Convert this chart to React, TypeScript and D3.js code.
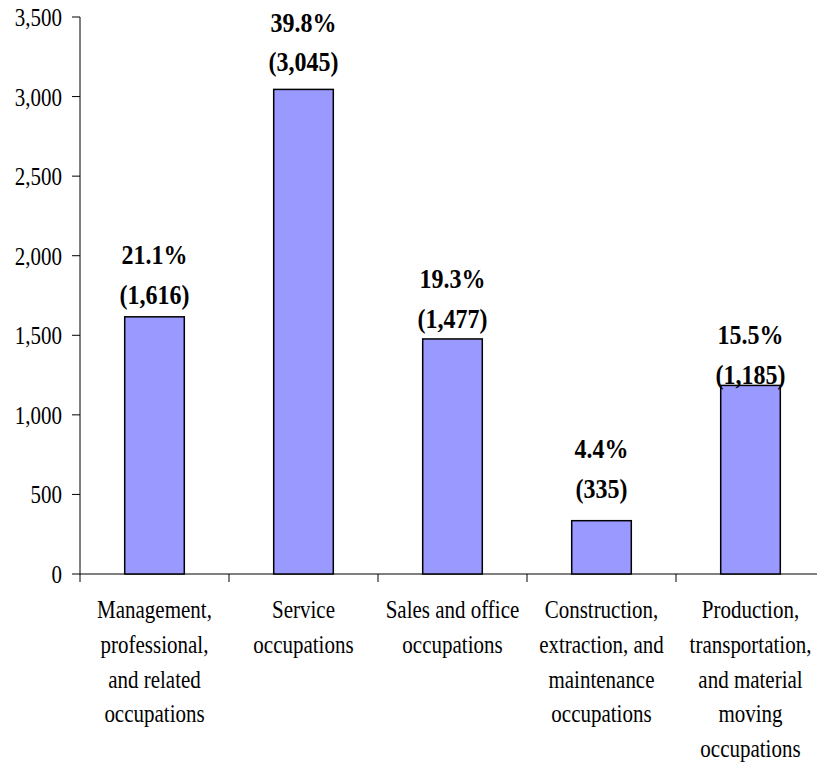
import React, { useEffect, useRef } from "react";
import * as d3 from "d3";

const categories: string[][] = [
  ["Management,", "professional,", "and related", "occupations"],
  ["Service", "occupations"],
  ["Sales and office", "occupations"],
  ["Construction,", "extraction, and", "maintenance", "occupations"],
  ["Production,", "transportation,", "and material", "moving", "occupations"],
];
const counts: number[] = [1616, 3045, 1477, 335, 1185];
const percents: string[] = ["21.1%", "39.8%", "19.3%", "4.4%", "15.5%"];
const yTicks: number[] = [0, 500, 1000, 1500, 2000, 2500, 3000, 3500];

// layout (not data)
const W = 817;
const H = 766;
const left = 80;
const right = 825;
const top = 17;
const bottom = 574;
const labelGap = [13, 18, 11, 23, 1.5];
const FONT = "'Liberation Serif', 'Times New Roman', serif";
const KY = 1.18; // vertical stretch of text seen in the reference

export default function App() {
  const ref = useRef<SVGSVGElement>(null);
  const ids = categories.map((_, i) => `c${i}`);
  const y = d3.scaleLinear().domain([0, 3500]).range([bottom, top]);
  const x = d3
    .scaleBand<string>()
    .domain(ids)
    .range([left, right])
    .paddingInner(0.6)
    .paddingOuter(0.3);
  const step = x.step();
  const fmt = d3.format(",");

  useEffect(() => {
    if (!ref.current) return;
    d3.select(ref.current)
      .selectAll<SVGTextElement, unknown>("text.cat")
      .each(function () {
        const w = this.getComputedTextLength();
        const cx = +(this.getAttribute("data-cx") || 0);
        const nx = Math.min(cx, W - 2 - w / 2);
        this.setAttribute("x", String(nx));
      });
  }, []);

  const tr = (by: number) => `translate(0,${by}) scale(1,${KY})`;

  return (
    <svg
      ref={ref}
      width={W}
      height={H}
      style={{ position: "absolute", left: 0, top: 0, background: "#fff" }}
      fontFamily={FONT}
    >
      {/* y axis */}
      <line x1={left} x2={left} y1={top} y2={bottom} stroke="#000" strokeWidth={1} />
      {yTicks.map((t) => (
        <g key={t}>
          <line x1={left - 8} x2={left} y1={y(t)} y2={y(t)} stroke="#000" strokeWidth={1} />
          <text x={62} y={0} transform={tr(y(t) + 9)} textAnchor="end" fontSize={21} fill="#000">
            {fmt(t)}
          </text>
        </g>
      ))}
      {/* x axis */}
      <line x1={left} x2={right} y1={bottom} y2={bottom} stroke="#000" strokeWidth={1} />
      {d3.range(ids.length + 1).map((i) => (
        <line
          key={i}
          x1={left + i * step}
          x2={left + i * step}
          y1={bottom}
          y2={bottom + 8}
          stroke="#000"
          strokeWidth={1}
        />
      ))}
      {/* bars */}
      {counts.map((v, i) => (
        <rect
          key={i}
          x={x(ids[i])!}
          y={y(v)}
          width={x.bandwidth()}
          height={bottom - y(v)}
          fill="#9999FF"
          stroke="#000"
          strokeWidth={1.5}
        />
      ))}
      {/* value labels */}
      {counts.map((v, i) => {
        const cx = x(ids[i])! + x.bandwidth() / 2;
        const b2 = y(v) - labelGap[i];
        return (
          <g key={i} fontWeight="bold" fontSize={24} textAnchor="middle">
            <text x={cx} y={0} transform={tr(b2 - 39.5)}>{percents[i]}</text>
            <text x={cx} y={0} transform={tr(b2)}>({fmt(v)})</text>
          </g>
        );
      })}
      {/* category labels */}
      {categories.map((lines, i) => {
        const cx = x(ids[i])! + x.bandwidth() / 2;
        return lines.map((ln, j) => (
          <text
            key={`${i}-${j}`}
            className="cat"
            data-cx={cx}
            x={cx}
            y={0}
            transform={tr(618 + j * 34.8)}
            textAnchor="middle"
            fontSize={21}
          >
            {ln}
          </text>
        ));
      })}
    </svg>
  );
}
